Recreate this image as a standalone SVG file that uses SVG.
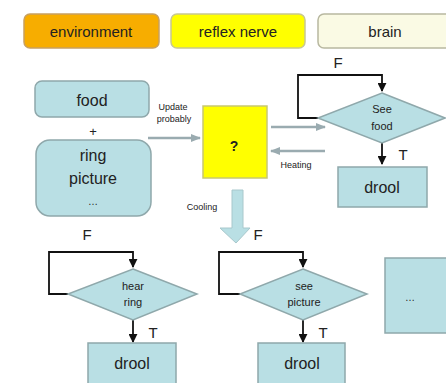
<svg xmlns="http://www.w3.org/2000/svg" width="446" height="383" viewBox="0 0 446 383">
<defs>
<style>
.t{font-family:"Liberation Sans",Arial,sans-serif;fill:#222;text-anchor:middle}
.blue{fill:#b9dfe4;stroke:#8fa8ab;stroke-width:1.5}
.blk{fill:none;stroke:#111;stroke-width:1.8}
.gry{fill:none;stroke:#9aabb0;stroke-width:2.5}
</style>
<marker id="ah" viewBox="0 0 10 10" refX="9" refY="5" markerWidth="5" markerHeight="5" orient="auto"><path d="M0,0L10,5L0,10z" fill="#111"/></marker>
<marker id="ag" viewBox="0 0 10 10" refX="9" refY="5" markerWidth="4" markerHeight="4" orient="auto"><path d="M0,1L10,5L0,9z" fill="#9aabb0"/></marker>
</defs>
<rect width="446" height="383" fill="#fff"/>
<g id="legend-environment"><rect x="24" y="14" width="135" height="34" rx="6" fill="#f7ad00" stroke="#c8a060" stroke-width="1.5"/><text class="t" x="91" y="37" font-size="15">environment</text></g>
<g id="legend-reflex"><rect x="171" y="14" width="134" height="34" rx="6" fill="#ffff00" stroke="#c8c890" stroke-width="1.5"/><text class="t" x="238" y="37" font-size="15">reflex nerve</text></g>
<g id="legend-brain"><rect x="318" y="14" width="140" height="34" rx="6" fill="#fafae4" stroke="#b8b8a0" stroke-width="1.5"/><text class="t" x="385" y="37" font-size="15">brain</text></g>

<g id="connectors">
<path class="blk" d="M318,118H298V75H382V91" marker-end="url(#ah)"/>
<path class="blk" d="M382,143V164" marker-end="url(#ah)"/>
<path class="blk" d="M68,294H49V252H133V267" marker-end="url(#ah)"/>
<path class="blk" d="M133,320V342" marker-end="url(#ah)"/>
<path class="blk" d="M240,294H219V252H303V267" marker-end="url(#ah)"/>
<path class="blk" d="M303,320V342" marker-end="url(#ah)"/>
<path class="gry" d="M148,138H200" marker-end="url(#ag)"/>
<path class="gry" d="M271,127H325" marker-end="url(#ag)"/>
<path class="gry" d="M325,151H271" marker-end="url(#ag)"/>
<path d="M232,190H243V228H250L236,243L220,228H232Z" fill="#b9dfe4" stroke="#a8c8cc" stroke-width="1"/>
</g>

<g id="food"><rect class="blue" x="35" y="81" width="114" height="36" rx="7"/><text class="t" x="92" y="106" font-size="16">food</text></g>
<text class="t" x="93" y="136" font-size="13">+</text>
<g id="ring-picture"><rect class="blue" x="36" y="140" width="115" height="76" rx="14"/><text class="t" x="93" y="161" font-size="16">ring</text><text class="t" x="93" y="184" font-size="16">picture</text><text class="t" x="93" y="205" font-size="10">…</text></g>
<text class="t" x="173" y="110" font-size="9" style="text-anchor:middle">Update</text>
<text class="t" x="174" y="122" font-size="9">probably</text>

<g id="reflex"><rect x="203" y="106" width="64" height="72" fill="#ffff00" stroke="#c8c870" stroke-width="1.5"/><text class="t" x="234" y="151" font-size="14" font-weight="bold">?</text></g>
<text class="t" x="296" y="168" font-size="9">Heating</text>
<text class="t" x="202" y="210" font-size="9">Cooling</text>

<g id="see-food"><path class="blue" d="M382,93L445,118L382,143L318,118Z"/><text class="t" x="382" y="113" font-size="11">See</text><text class="t" x="382" y="130" font-size="11">food</text></g>
<text class="t" x="338" y="68" font-size="15">F</text>
<text class="t" x="403" y="160" font-size="15">T</text>
<g id="drool1"><rect class="blue" x="338" y="167" width="89" height="40"/><text class="t" x="382" y="193" font-size="16">drool</text></g>

<g id="hear-ring"><path class="blue" d="M133,269L197,294L133,320L68,294Z"/><text class="t" x="133" y="290" font-size="11">hear</text><text class="t" x="133" y="306" font-size="11">ring</text></g>
<text class="t" x="87" y="240" font-size="15">F</text>
<text class="t" x="153" y="338" font-size="15">T</text>
<g id="drool2"><rect class="blue" x="88" y="343" width="88" height="42"/><text class="t" x="132" y="369" font-size="16">drool</text></g>

<g id="see-picture"><path class="blue" d="M303,269L367,294L303,320L240,294Z"/><text class="t" x="304" y="290" font-size="11">see</text><text class="t" x="304" y="306" font-size="11">picture</text></g>
<text class="t" x="258" y="240" font-size="15">F</text>
<text class="t" x="323" y="338" font-size="15">T</text>
<g id="drool3"><rect class="blue" x="258" y="343" width="87" height="42"/><text class="t" x="302" y="369" font-size="16">drool</text></g>

<g id="more"><rect class="blue" x="385" y="258" width="70" height="75"/><text class="t" x="410" y="301" font-size="10">…</text></g>
</svg>
